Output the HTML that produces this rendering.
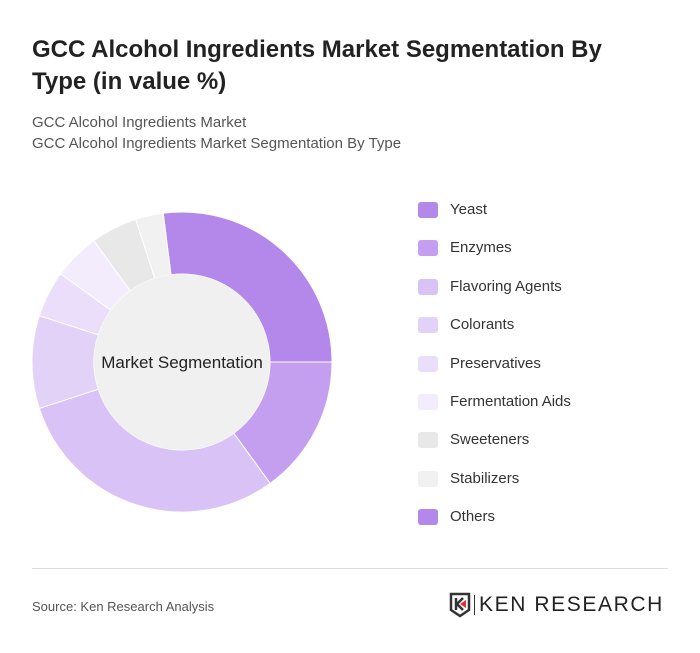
<!DOCTYPE html>
<html><head><meta charset="utf-8"><style>
body{margin:0;width:700px;height:653px;background:#fff;font-family:"Liberation Sans",sans-serif;position:relative;overflow:hidden}
.t{position:absolute;left:32px;top:34px;font-size:24px;font-weight:bold;color:#222;line-height:32px;width:600px}
.s{position:absolute;left:32px;font-size:15px;color:#555}
.leg{position:absolute;left:418px;font-size:15px;color:#333}
.leg i{position:absolute;left:0;top:3px;width:20px;height:16px;border-radius:3px}
.leg span{position:absolute;left:32px;top:2px;white-space:nowrap}
</style></head><body>
<div class="t">GCC Alcohol Ingredients Market Segmentation By Type (in value %)</div>
<div class="s" style="top:114px">GCC Alcohol Ingredients Market</div>
<div class="s" style="top:135px">GCC Alcohol Ingredients Market Segmentation By Type</div>
<svg id="ch" width="700" height="653" style="position:absolute;left:0;top:0"></svg>
<div id="legend"></div>
<div style="position:absolute;left:32px;top:568px;width:636px;height:1px;background:#ddd"></div>
<div class="s" style="top:599px;font-size:13px;color:#555">Source: Ken Research Analysis</div>
<div style="position:absolute;left:449px;top:592px;width:220px;height:26px">
<svg width="22" height="26" style="position:absolute;left:0;top:0"><path d="M2 2h18v16l-9 6-9-6z" fill="none" stroke="#333" stroke-width="2.5"/><path d="M7 6v12M8 12l6-6M8 12l6 6" stroke="#333" stroke-width="2.5" fill="none"/><path d="M11 12l6-4v8z" fill="#d33"/></svg>
<div style="position:absolute;left:25px;top:3px;width:1px;height:20px;background:#333"></div>
<div style="position:absolute;left:30px;top:1px;font-size:21px;color:#222;letter-spacing:1.6px">KEN RESEARCH</div>
</div>
<script>
const categories=["Yeast","Enzymes","Flavoring Agents","Colorants","Preservatives","Fermentation Aids","Sweeteners","Stabilizers","Others"];
const values=[27,15,30,10,5,5,5,3,0];
const colors=["#b487ea","#c49ff0","#d9c2f6","#e3d2f8","#ebdefa","#f3ecfc","#e8e8e8","#f1f1f1","#b487ea"];
const svg=document.getElementById('ch');const NS="http://www.w3.org/2000/svg";
const cx=182,cy=362,R=150,r=88;
const total=values.reduce((a,b)=>a+b,0);
let a=-0.02*2*Math.PI;
function pt(rad,ang){return [cx+rad*Math.sin(ang),cy-rad*Math.cos(ang)];}
values.forEach((v,i)=>{if(v<=0)return;const a2=a+v/total*2*Math.PI;
const [x1,y1]=pt(R,a),[x2,y2]=pt(R,a2),[x3,y3]=pt(r,a2),[x4,y4]=pt(r,a);const lg=a2-a>Math.PI?1:0;
const p=document.createElementNS(NS,'path');
p.setAttribute('d',`M${x1} ${y1}A${R} ${R} 0 ${lg} 1 ${x2} ${y2}L${x3} ${y3}A${r} ${r} 0 ${lg} 0 ${x4} ${y4}Z`);
p.setAttribute('fill',colors[i]);p.setAttribute('stroke','#fff');p.setAttribute('stroke-width','1');


svg.appendChild(p);a=a2;});
const c=document.createElementNS(NS,'circle');c.setAttribute('cx',cx);c.setAttribute('cy',cy);c.setAttribute('r',r);c.setAttribute('fill','#f0f0f0');


svg.appendChild(c);
const t=document.createElementNS(NS,'text');t.setAttribute('x',cx);t.setAttribute('y',cy+6);t.setAttribute('text-anchor','middle');t.setAttribute('font-size','17');t.setAttribute('fill','#222');t.setAttribute('font-family','Liberation Sans, sans-serif');t.textContent='Market Segmentation';


svg.appendChild(t);
const L=document.getElementById('legend');
categories.forEach((n,i)=>{const d=document.createElement('div');d.className='leg';d.style.top=(199+i*38.4)+'px';


d.innerHTML=`<i style="background:${colors[i]}"></i><span>${n}</span>`;L.appendChild(d);});
</script>
</body></html>
